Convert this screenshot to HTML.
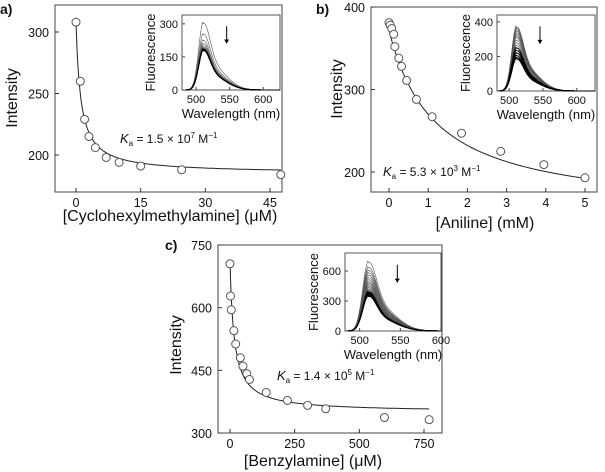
<!DOCTYPE html>
<html><head><meta charset="utf-8"><style>
body{margin:0;background:#fff;}
svg{display:block;font-family:"Liberation Sans",sans-serif;}
</style></head><body>
<svg id="fig" width="605" height="472" viewBox="0 0 605 472" xmlns="http://www.w3.org/2000/svg"></svg>
<script>
// ---- data ----
const aX=[0,1,2,3,4.5,7,10,15,24.5,47.5];
const aY=[308,260,229,215,206,198,194,191,188,184];
const aFit=[308,185,0.9];
const bX=[0,0.03,0.07,0.12,0.15,0.25,0.32,0.45,0.7,1.1,1.85,2.85,3.95,5];
const bY=[381,378,374,367,352,338,328,311,288,267,247,225,209,193];
const bFit=[372,150,0.85];
const cX=[0,2,5,15,22,40,50,65,75,140,222,300,370,597,770];
const cY=[705,628,595,545,513,480,460,442,428,397,378,366,358,337,332];
const cFit=[705,350,0.06];
const aPeaks=[310,258,230,215,205,198,194,191,189,187,186,185,184,183];
const bPeaks=[380,372,364,355,345,335,325,315,300,285,270,255,240,225,210,198,190];
const cPeaks=[705,650,620,595,570,545,525,505,490,475,460,445,430,420,410,400,390,380,370,360,355];
const aXTicks=[0,15,30,45], aYTicks=[200,250,300];
const bXTicks=[0,1,2,3,4,5], bYTicks=[200,300,400];
const cXTicks=[0,250,500,750], cYTicks=[300,450,600,750];

const svg=document.getElementById('fig');
const NS='http://www.w3.org/2000/svg';
function el(tag,attrs,parent){const e=document.createElementNS(NS,tag);for(const k in attrs)e.setAttribute(k,attrs[k]);(parent||svg).appendChild(e);return e;}
function txt(s,x,y,size,anchor,parent,extra){const t=el('text',Object.assign({x:x,y:y,'font-size':size,'text-anchor':anchor||'middle',fill:'#111'},extra||{}),parent);t.textContent=s;return t;}
function scale(d0,d1,r0,r1){return v=>r0+(v-d0)*(r1-r0)/(d1-d0);}

function panel(o){
  const g=el('g',{});
  
  
  const sx=scale(o.xd[0],o.xd[1],o.xr[0],o.xr[1]);
  const sy=scale(o.yd[0],o.yd[1],o.yr[0],o.yr[1]);
  const fr=el('rect',{x:o.box[0],y:o.box[1],width:o.box[2]-o.box[0],height:o.box[3]-o.box[1],fill:'none',stroke:'#444','stroke-width':1},g);
  
  o.xt.forEach(v=>{const x=sx(v);el('line',{x1:x,x2:x,y1:o.box[3],y2:o.box[3]-4,stroke:'#333'},g);
    const t=txt(String(v),x,o.box[3]+15,12.5,'middle',g);});
  o.yt.forEach(v=>{const y=sy(v);el('line',{x1:o.box[0],x2:o.box[0]+4,y1:y,y2:y,stroke:'#333'},g);
    const t=txt(String(v),o.box[0]-6,y+5,12.5,'end',g);});
  const f=o.fit;let d='';
  for(let i=0;i<=200;i++){const x=o.fitMax*i/200;const y=f[0]+(f[1]-f[0])*f[2]*x/(1+f[2]*x);d+=(i?'L':'M')+sx(x).toFixed(1)+','+sy(y).toFixed(1);}
  const p=el('path',{d:d,fill:'none',stroke:'#222','stroke-width':1},g);
  
  o.x.forEach((v,i)=>{const c=el('circle',{cx:sx(v),cy:sy(o.y[i]),r:4,fill:'#fff',stroke:'#555','stroke-width':1},g);
    });
  const yl=txt('Intensity',0,0,16,'middle',g,{transform:'translate('+o.ylab[0]+','+o.ylab[1]+') rotate(-90)'});
  
  const xl=txt(o.xtitle,o.xlab[0],o.xlab[1],16,'middle',g);
  
  const lt=txt(o.letter,o.lpos[0],o.lpos[1],14,'start',g,{'font-weight':'bold'});
  
  const ka=el('text',{x:o.ka[0],y:o.ka[1],'font-size':12,fill:'#111'},g);
  
  ka.innerHTML='<tspan font-style="italic" font-size="13">K</tspan><tspan font-size="8" dy="3">a</tspan><tspan dy="-3"> = '+o.kaVal+' × 10</tspan><tspan font-size="8" dy="-5">'+o.kaExp+'</tspan><tspan dy="5"> M</tspan><tspan font-size="8" dy="-5">−1</tspan>';
  // inset
  const ig=el('g',{},g);
  
  const ib=o.ibox;
  const ix=scale(o.ixd[0],o.ixd[1],ib[0],ib[2]);
  const iy=scale(0,o.iyMax,ib[3],ib[1]);
  el('rect',{x:ib[0],y:ib[1],width:ib[2]-ib[0],height:ib[3]-ib[1],fill:'#fff',stroke:'#555'},ig);
  o.peaks.forEach((pk,k)=>{let d='';
    for(let w=o.ixd[0];w<=o.ixd[1];w+=1){
      let s;
      if(w<511){const a=(w-511)/10;s=Math.exp(-a*a);}
      else{s=0.62*Math.exp(-Math.pow((w-511)/13,2))+0.38*Math.exp(-Math.pow((w-520)/32,2));}
      d+=(w==o.ixd[0]?'M':'L')+ix(w).toFixed(1)+','+iy(pk*s).toFixed(1);}
    const sp=el('path',{d:d,fill:'none',stroke:k<o.peaks.length-6?'#555':'#000','stroke-width':k<o.peaks.length-6?0.6:1},ig);
    });
  o.ixt.forEach(v=>{const x=ix(v);el('line',{x1:x,x2:x,y1:ib[3],y2:ib[3]-3,stroke:'#444'},ig);txt(String(v),x,ib[3]+13,11,'middle',ig);});
  o.iyt.forEach(v=>{const y=iy(v);el('line',{x1:ib[0],x2:ib[0]+3,y1:y,y2:y,stroke:'#444'},ig);txt(String(v),ib[0]-4,y+4,11,'end',ig);});
  txt('Wavelength (nm)',(ib[0]+ib[2])/2,ib[3]+28,13,'middle',ig);
  txt('Fluorescence',0,0,13,'middle',ig,{transform:'translate('+(ib[0]-27)+','+((ib[1]+ib[3])/2)+') rotate(-90)'});
  const ax=ix(550)-3;
  el('line',{x1:ax,x2:ax,y1:iy(o.iyMax*0.85),y2:iy(o.iyMax*0.62),stroke:'#000'},ig);
  el('path',{d:'M'+(ax-2.5)+','+(iy(o.iyMax*0.62)-4)+'L'+ax+','+iy(o.iyMax*0.62)+'L'+(ax+2.5)+','+(iy(o.iyMax*0.62)-4)+'Z',fill:'#000'},ig);
}

panel({name:'panel-a',box:[55,5,282,192],xd:[0,45],xr:[76,270],yd:[200,300],yr:[155,32],x:aX,y:aY,fit:aFit,fitMax:47.5,xt:aXTicks,yt:aYTicks,
  xtitle:'[Cyclohexylmethylamine] (μM)',xlab:[170,221],ylab:[17,98],letter:'a)',lpos:[0,14],ka:[120,143],kaVal:'1.5',kaExp:'7',
  ibox:[182,15,280,90],ixd:[479,625],iyMax:340,peaks:aPeaks,ixt:[500,550,600],iyt:[0,150,300]});
panel({name:'panel-b',box:[371,7,597,192],xd:[0,5],xr:[389,585],yd:[200,400],yr:[172,7],x:bX,y:bY,fit:bFit,fitMax:5,xt:bXTicks,yt:bYTicks,
  xtitle:'[Aniline] (mM)',xlab:[485,228],ylab:[342,89],letter:'b)',lpos:[316,14],ka:[383,176],kaVal:'5.3',kaExp:'3',
  ibox:[497,15,595,91],ixd:[482,627],iyMax:440,peaks:bPeaks,ixt:[500,550,600],iyt:[0,200,400]});
panel({name:'panel-c',box:[218,245,442,433],xd:[0,750],xr:[230,424],yd:[300,750],yr:[433,245],x:cX,y:cY,fit:cFit,fitMax:770,xt:cXTicks,yt:cYTicks,
  xtitle:'[Benzylamine] (μM)',xlab:[313,466],ylab:[181,345],letter:'c)',lpos:[165,250],ka:[277,380],kaVal:'1.4',kaExp:'5',
  ibox:[345,253,441,331],ixd:[482,600],iyMax:780,peaks:cPeaks,ixt:[500,550,600],iyt:[0,300,600]});
</script>
</body></html>
